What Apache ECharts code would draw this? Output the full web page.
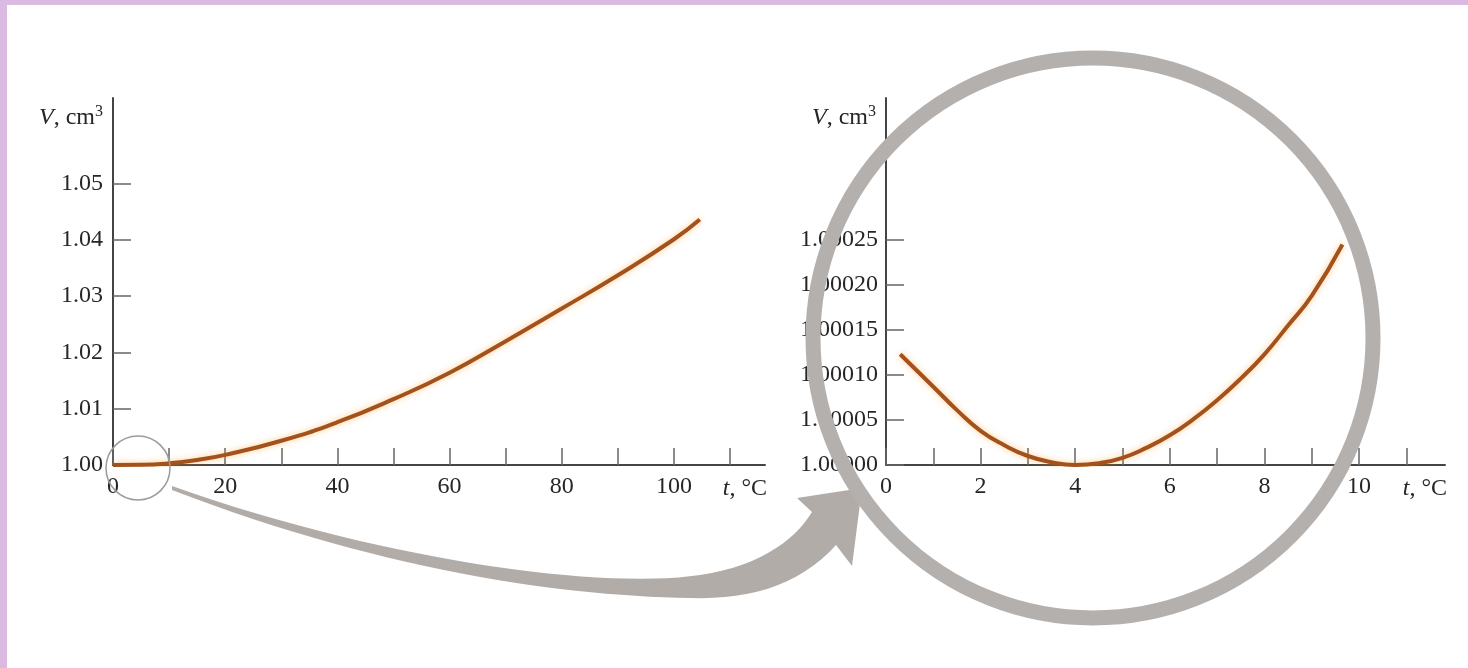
<!DOCTYPE html>
<html><head><meta charset="utf-8">
<script src="https://cdn.jsdelivr.net/npm/echarts@6/dist/echarts.min.js"></script>
<style>html,body{margin:0;padding:0;background:#fff}#c{width:1468px;height:668px}</style>
</head><body><div id="c"></div>
<script>
// Wide range: volume of 1 g of water vs temperature
const wideTemps   = [0, 5, 10, 15, 20, 30, 40, 50, 60, 70, 80, 90, 100, 104.6];
const wideVolumes = [1.0000, 1.00003, 1.0003, 1.0009, 1.0018, 1.0043, 1.0076, 1.0117, 1.0164, 1.0220, 1.0278, 1.0337, 1.0401, 1.0436];
const wideXLabels = [0, 20, 40, 60, 80, 100];
const wideXTicks  = [0, 10, 20, 30, 40, 50, 60, 70, 80, 90, 100, 110];
const wideYLabels = [1.00, 1.01, 1.02, 1.03, 1.04, 1.05];

// Zoomed range 0-10 °C
const zoomTemps   = [0.3, 1, 1.5, 2, 2.5, 3, 3.5, 4, 4.5, 5, 5.5, 6, 6.5, 7, 7.5, 8, 8.5, 9, 9.65];
const zoomVolumes = [1.000123, 1.000087, 1.000061, 1.000038, 1.000022, 1.000010, 1.000003, 1.0, 1.000002, 1.000008, 1.000019, 1.000033, 1.000051, 1.000072, 1.000096, 1.000123, 1.000155, 1.000188, 1.000245];
const zoomXLabels = [0, 2, 4, 6, 8, 10];
const zoomXTicks  = [0, 1, 2, 3, 4, 5, 6, 7, 8, 9, 10, 11];
const zoomYLabels = [1.00000, 1.00005, 1.00010, 1.00015, 1.00020, 1.00025];

const FONT = 'Liberation Serif';
const TXT = '#262626';
const AX = '#444444';
const LINE = '#a4521c';

function pairs(xs, ys){ return xs.map((x,i)=>[x, ys[i]]); }

// cubic bezier sampler for the decorative arrow outline
function bez(p0, p1, p2, p3, n){
  const out = [];
  for (let k = 1; k <= n; k++){
    const t = k/n, u = 1-t;
    out.push([
      u*u*u*p0[0] + 3*u*u*t*p1[0] + 3*u*t*t*p2[0] + t*t*t*p3[0],
      u*u*u*p0[1] + 3*u*u*t*p1[1] + 3*u*t*t*p2[1] + t*t*t*p3[1]
    ]);
  }
  return out;
}
const arrowPts = [[172,486]]
  .concat(bez([172,486],[380,560],[600,590],[700,575],30))
  .concat(bez([700,575],[760,566],[795,540],[812,512],15))
  .concat([[797,498],[862,488],[852,566],[836,545]])
  .concat(bez([836,545],[800,585],[750,600],[690,598],15))
  .concat(bez([690,598],[560,596],[380,570],[172,490],30));

const richName = {
  i: {fontFamily: FONT, fontSize: 24, fontStyle: 'italic', color: TXT},
  n: {fontFamily: FONT, fontSize: 24, color: TXT},
  s: {fontFamily: FONT, fontSize: 16, color: TXT, padding: [0,0,12,0]}
};

function xAxis(gi, max, labels, ticks, digits){
  return {
    type: 'value', gridIndex: gi, min: 0, max: max,
    axisLine: {show: true, lineStyle: {color: AX, width: 2}},
    axisTick: {show: true, inside: true, length: 17, customValues: ticks, lineStyle: {color: '#666', width: 1.5}},
    axisLabel: {customValues: labels, color: TXT, fontFamily: FONT, fontSize: 24, margin: 10, formatter: v => v.toFixed(digits)},
    splitLine: {show: false},
    name: '{i|t}{n|, °C}', nameLocation: 'end', nameGap: 2,
    nameTextStyle: {align: 'right', verticalAlign: 'top', padding: [12,0,0,0], rich: richName}
  };
}
function yAxis(gi, min, max, labels, digits, margin){
  return {
    type: 'value', gridIndex: gi, min: min, max: max,
    axisLine: {show: true, lineStyle: {color: AX, width: 2}},
    axisTick: {show: true, inside: true, length: 18, customValues: labels, lineStyle: {color: '#666', width: 1.5}},
    axisLabel: {customValues: labels, color: TXT, fontFamily: FONT, fontSize: 24, margin: margin, formatter: v => v.toFixed(digits)},
    splitLine: {show: false},
    name: '{i|V}{n|, cm}{s|3}', nameLocation: 'end', nameGap: -20,
    nameTextStyle: {align: 'right', verticalAlign: 'middle', padding: [0,10,0,0], rich: richName}
  };
}

const chart = echarts.init(document.getElementById('c'), null, {renderer: 'canvas'});
chart.setOption({
  backgroundColor: '#ffffff',
  animation: false,
  grid: [
    {left: 113, top: 98, width: 652, height: 367},
    {left: 886, top: 98, width: 559, height: 367}
  ],
  xAxis: [
    xAxis(0, 652/5.61, wideXLabels, wideXTicks, 0),
    xAxis(1, 559/47.3, zoomXLabels, zoomXTicks, 0)
  ],
  yAxis: [
    yAxis(0, 1.0, 1 + 367/5630, wideYLabels, 2, 10),
    yAxis(1, 1.0, 1 + 367/45*0.00005, zoomYLabels, 5, 8)
  ],
  series: [
    {type: 'line', xAxisIndex: 0, yAxisIndex: 0, data: pairs(wideTemps, wideVolumes), smooth: 0.5, showSymbol: false,
     lineStyle: {color: LINE, width: 4, shadowColor: 'rgba(255,160,50,0.55)', shadowBlur: 6}},
    {type: 'line', xAxisIndex: 1, yAxisIndex: 1, data: pairs(zoomTemps, zoomVolumes), smooth: 0.5, showSymbol: false,
     lineStyle: {color: LINE, width: 4, shadowColor: 'rgba(255,160,50,0.55)', shadowBlur: 6}}
  ],
  graphic: [
    {type: 'rect', left: 0, top: 0, shape: {width: 1468, height: 5}, style: {fill: '#dbbae2'}, z: 100},
    {type: 'rect', left: 0, top: 0, shape: {width: 7, height: 668}, style: {fill: '#dbbae2'}, z: 100},
    {type: 'circle', shape: {cx: 138, cy: 468, r: 32}, style: {fill: 'none', stroke: '#9c9c9c', lineWidth: 1.5}, z: 100},
    {type: 'polygon', shape: {points: arrowPts}, style: {fill: '#b2aca8'}, z: 100},
    {type: 'circle', shape: {cx: 1093, cy: 338, r: 280}, style: {fill: 'none', stroke: '#b4b0ad', lineWidth: 15}, z: 100}
  ]
});
</script></body></html>
